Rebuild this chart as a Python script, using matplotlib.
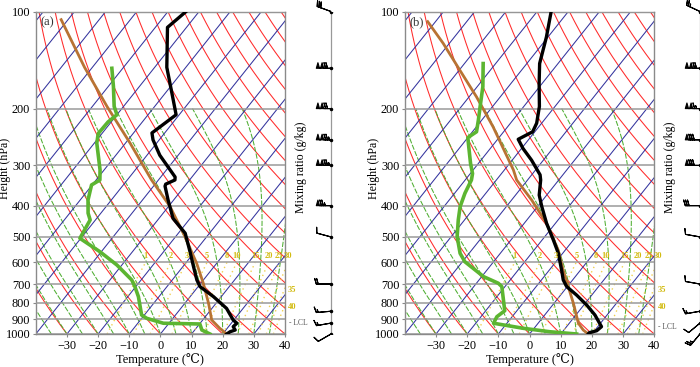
import numpy as np
import matplotlib.pyplot as plt

SKEW = 35.8  # deg C of horizontal shift per unit ln(1000/p)
SERIF = ['Liberation Serif', 'DejaVu Serif', 'DejaVu Sans']

# ---- panel (a) sounding ----
temp_pres_a = [1000, 984, 972, 949, 926, 905, 833, 766, 713, 680, 618, 556, 487, 438,
               384, 348, 343, 333, 326, 279, 250, 238, 209, 179, 149, 112, 100]
temp_a = [21.3, 21.8, 23.0, 21.5, 21.8, 19.8, 14.7, 7.5, 0.6, -2.1, -6.6, -11.5, -17.8, -25.5,
          -31.8, -36.3, -36.6, -34.7, -35.4, -45.9, -52.0, -54.1, -51.0, -57.9, -66.1, -76.1, -74.2]
dewp_pres_a = [1000, 972, 931, 926, 894, 873, 766, 713, 680, 611, 556, 505, 443, 422,
               384, 345, 333, 310, 256, 239, 220, 209, 197, 171, 150]
dewp_a = [15.9, 12.3, 10.1, -1.8, -8.4, -10.9, -16.6, -20.3, -23.0, -31.6, -40.4, -50.3, -51.7, -54.1,
          -57.5, -60.2, -58.8, -61.3, -69.2, -71.2, -71.0, -70.0, -73.0, -78.3, -83.5]
parcel_pres_a = [1000, 960, 905, 803, 696, 604, 499, 403, 333, 256, 197, 149, 106]
parcel_a = [21.3, 17.6, 12.9, 7.6, 0.8, -6.4, -17.0, -29.4, -42.2, -58.5, -75.3, -92.5, -112.2]

# ---- panel (b) sounding ----
temp_pres_b = [1000, 991, 977, 949, 873, 813, 757, 713, 680, 633, 562, 511, 454, 403,
               371, 333, 321, 289, 266, 249, 236, 222, 197, 167, 145, 120, 100]
temp_b = [18.8, 18.8, 20.7, 21.2, 16.1, 10.9, 5.1, -0.2, -3.0, -6.1, -11.4, -16.4, -22.8, -28.6,
          -32.4, -35.8, -37.3, -43.8, -49.5, -53.4, -50.7, -51.6, -55.0, -61.0, -65.9, -70.5, -75.5]
dewp_pres_b = [1000, 984, 960, 926, 884, 847, 713, 696, 664, 597, 562, 499, 443, 403,
               366, 333, 318, 296, 263, 246, 236, 217, 197, 171, 145]
dewp_b = [15.1, 5.9, -3.5, -14.3, -14.9, -13.9, -21.0, -23.0, -29.4, -39.2, -42.9, -48.1, -52.0, -54.8,
          -56.7, -58.0, -59.3, -62.5, -67.3, -70.0, -68.7, -71.1, -74.0, -78.2, -84.0]
parcel_pres_b = [1000, 972, 926, 803, 713, 633, 549, 454, 384, 333, 310, 228, 184, 152, 125.5, 107.5]
parcel_b = [18.8, 16.2, 12.9, 6.2, 0.3, -5.6, -12.3, -22.8, -33.6, -43.5, -47.1, -64.6, -77.6, -89.8,
            -102.0, -112.5]

# ---- winds (speed kt, direction deg) ----
wind_pres = [1000, 925, 850, 700, 500, 400, 300, 250, 200, 150, 100]
wspd_a = [10, 15, 15, 20, 10, 75, 125, 125, 120, 120, 30]
wdir_a = [240, 260, 265, 270, 285, 270, 270, 270, 270, 270, 290]
wspd_b = [25, 10, 15, 10, 10, 30, 80, 80, 115, 120, 25]
wdir_b = [220, 230, 260, 280, 280, 270, 270, 270, 270, 270, 295]

mix_ratios = [1, 2, 3, 5, 8, 10, 15, 20, 25, 30, 35, 40]
isobars = [100, 200, 300, 400, 500, 600, 700, 800, 900, 1000]
temp_ticks = [-30, -20, -10, 0, 10, 20, 30, 40]

lcl_a, lcl_b = 926, 949


def skx(t, p):
    return np.asarray(t, float) + SKEW * np.log(1000.0 / np.asarray(p, float))


def moist_adiabat(t0, p):
    Rd, cp, Lv, eps = 287.04, 1005.7, 2.501e6, 0.622
    T = t0 + 273.15
    out = [T]
    for i in range(1, len(p)):
        pm = p[i - 1]
        es = 6.112 * np.exp(17.67 * (T - 273.15) / (T - 29.65))
        rs = eps * es / (pm - es)
        dtdp = (Rd * T + Lv * rs) / (pm * (cp + Lv * Lv * rs * eps / (Rd * T * T)))
        T = T + dtdp * (p[i] - pm)
        out.append(T)
    return np.array(out) - 273.15


def dewpoint_from_w(w, p):
    e = w * p / (622.0 + w)
    a = np.log(e / 6.112)
    return 243.5 * a / (17.67 - a)


def draw_panel(ax, tp, t, dp, d, pp, pt, lcl, tag):
    ax.set_yscale('log')
    ax.set_ylim(1000, 100)
    ax.set_xlim(-40, 40)

    p_all = np.geomspace(1000, 100, 200)
    # dry adiabats
    for th in np.arange(-40, 220, 10):
        tt = (th + 273.15) * (p_all / 1000.0) ** 0.286 - 273.15
        ax.plot(skx(tt, p_all), p_all, color='#ff2a2a', lw=0.75, zorder=2)
    # moist adiabats
    p_m = np.linspace(1000, 200, 400)
    for tw in np.arange(-40, 45, 5):
        tt = moist_adiabat(tw, p_m)
        ax.plot(skx(tt, p_m), p_m, color='#4fae32', lw=0.75, ls=(0, (5, 1.5)), zorder=2)
    # isotherms
    for ti in np.arange(-160, 50, 10):
        ax.plot(skx([ti, ti], [1000, 100]), [1000, 100], color='#34349e', lw=0.75, zorder=2)
    # mixing ratio lines
    p_w = np.linspace(1000, 600, 60)
    for w in mix_ratios:
        xw = skx(dewpoint_from_w(w, p_w), p_w)
        ax.plot(xw, p_w, color='#f0d050', lw=1.0, ls=(0, (1, 2.5)), zorder=2)
        if xw[-1] <= 41.5:
            ax.text(min(xw[-1], 41.3), 590, str(w), color='#d2bb10', fontsize=6,
                    fontweight='bold', ha='center', va='bottom', family=SERIF,
                    clip_on=False, zorder=9)
        else:
            k = np.argmax(xw > 40)
            ax.text(41.0, p_w[k] * 1.02, str(w), color='#d2bb10', fontsize=6,
                    fontweight='bold', ha='left', va='center', family=SERIF,
                    clip_on=False, zorder=9)
    # isobars
    for pb in isobars:
        ax.axhline(pb, color='#9a9a9a', lw=1.1, zorder=3)

    # profiles
    ax.plot(skx(pt, pp), pp, color='#b87333', lw=2.0, zorder=6)
    ax.plot(skx(d, dp), dp, color='#5cb531', lw=2.6, zorder=7)
    ax.plot(skx(t, tp), tp, color='black', lw=2.4, zorder=8)

    ax.text(41.2, lcl, '- LCL', fontsize=5.5, color='#555555', va='center', ha='left',
            family=SERIF, clip_on=False)
    ax.text(0.02, 0.985, tag, transform=ax.transAxes, fontsize=9, va='top', ha='left',
            family=SERIF, color='#333333', zorder=10)

    ax.set_yticks(isobars)
    ax.set_yticklabels([str(v) for v in isobars])
    ax.minorticks_off()
    ax.set_xticks(temp_ticks)
    ax.set_xticklabels([str(v).replace('-', '\u2212') for v in temp_ticks])
    ax.tick_params(axis='both', length=2, color='#888888', labelsize=8.8, pad=2)
    for lab in ax.get_xticklabels() + ax.get_yticklabels():
        lab.set_family(SERIF)
    ax.set_ylabel('Height (hPa)', family=SERIF, fontsize=8.6)
    ax.yaxis.set_label_coords(-0.098, 0.515)
    ax.set_xlabel('Temperature (\u2103)', family=SERIF, fontsize=9, labelpad=1)
    for s in ax.spines.values():
        s.set_color('#8a8a8a')
        s.set_linewidth(1.0)


def draw_barbs(bax, spd, wdir):
    bax.set_yscale('log')
    bax.set_ylim(1000, 100)
    bax.set_xlim(0, 40)
    bax.axis('off')
    bax.plot([31, 31], [1000, 100], color='#999999', lw=0.9)
    spd = np.asarray(spd, float)
    rad = np.deg2rad(wdir)
    u = -spd * np.sin(rad)
    v = -spd * np.cos(rad)
    bax.barbs(np.full(len(spd), 31.0), wind_pres, u, v, length=4.6, linewidth=0.8,
              color='black', sizes=dict(spacing=0.13, height=0.38, width=0.22), clip_on=False)
    bax.plot(np.full(len(spd), 31.0), wind_pres, 'o', ms=1.5, color='black')


fig = plt.figure(figsize=(7.0, 3.67), dpi=100)
ax_a = fig.add_axes([35.8 / 700, 33 / 367, 249.2 / 700, 322.5 / 367])
ax_b = fig.add_axes([404.8 / 700, 33 / 367, 249.5 / 700, 322.5 / 367])
draw_panel(ax_a, temp_pres_a, temp_a, dewp_pres_a, dewp_a, parcel_pres_a, parcel_a, lcl_a, '(a)')
draw_panel(ax_b, temp_pres_b, temp_b, dewp_pres_b, dewp_b, parcel_pres_b, parcel_b, lcl_b, '(b)')

bax_a = fig.add_axes([300 / 700, 33 / 367, 40 / 700, 322.5 / 367])
bax_b = fig.add_axes([669 / 700, 33 / 367, 40 / 700, 322.5 / 367])
draw_barbs(bax_a, wspd_a, wdir_a)
draw_barbs(bax_b, wspd_b, wdir_b)

fig.text(301 / 700, 200 / 367, 'Mixing ratio (g/kg)', rotation=90, ha='center', va='center',
         family=SERIF, fontsize=8.6)
fig.text(670 / 700, 200 / 367, 'Mixing ratio (g/kg)', rotation=90, ha='center', va='center',
         family=SERIF, fontsize=8.6)

fig.savefig('out.png', dpi=100)
